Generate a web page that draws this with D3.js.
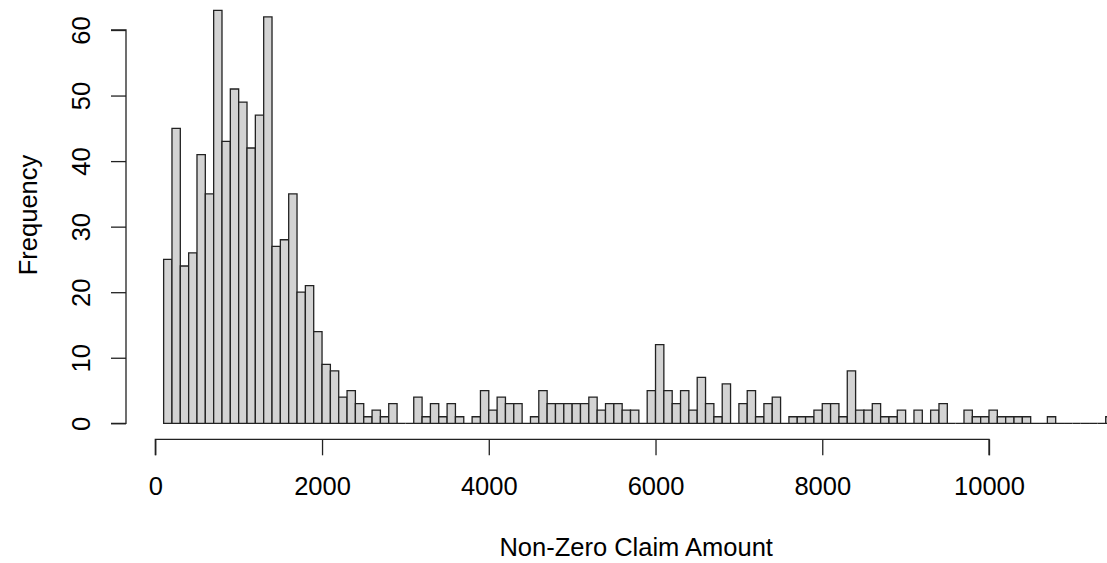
<!DOCTYPE html>
<html>
<head>
<meta charset="utf-8">
<script src="https://cdn.jsdelivr.net/npm/d3@7"></script>
<style>
  html, body { margin: 0; padding: 0; background: #fff; }
  svg { display: block; }
  text { font-family: "Liberation Sans", Arial, sans-serif; fill: #000; }
</style>
</head>
<body>
<svg id="chart" width="1107" height="563"></svg>
<script>
// Left edges of the 100-wide claim-amount bins
const binStarts = [
  100, 200, 300, 400, 500, 600, 700, 800, 900, 1000,
  1100, 1200, 1300, 1400, 1500, 1600, 1700, 1800, 1900, 2000,
  2100, 2200, 2300, 2400, 2500, 2600, 2700, 2800, 2900, 3000,
  3100, 3200, 3300, 3400, 3500, 3600, 3700, 3800, 3900, 4000,
  4100, 4200, 4300, 4400, 4500, 4600, 4700, 4800, 4900, 5000,
  5100, 5200, 5300, 5400, 5500, 5600, 5700, 5800, 5900, 6000,
  6100, 6200, 6300, 6400, 6500, 6600, 6700, 6800, 6900, 7000,
  7100, 7200, 7300, 7400, 7500, 7600, 7700, 7800, 7900, 8000,
  8100, 8200, 8300, 8400, 8500, 8600, 8700, 8800, 8900, 9000,
  9100, 9200, 9300, 9400, 9500, 9600, 9700, 9800, 9900, 10000,
  10100, 10200, 10300, 10400, 10500, 10600, 10700, 10800, 10900, 11000,
  11100, 11200, 11300, 11400
];
const binWidth = 100;

// Number of non-zero claims falling in each bin
const counts = [
  25, 45, 24, 26, 41, 35, 63, 43, 51, 49,
  42, 47, 62, 27, 28, 35, 20, 21, 14, 9,
  8, 4, 5, 3, 1, 2, 1, 3, 0, 0,
  4, 1, 3, 1, 3, 1, 0, 1, 5, 2,
  4, 3, 3, 0, 1, 5, 3, 3, 3, 3,
  3, 4, 2, 3, 3, 2, 2, 0, 5, 12,
  5, 3, 5, 2, 7, 3, 1, 6, 0, 3,
  5, 1, 3, 4, 0, 1, 1, 1, 2, 3,
  3, 1, 8, 2, 2, 3, 1, 1, 2, 0,
  2, 0, 2, 3, 0, 0, 2, 1, 1, 2,
  1, 1, 1, 1, 0, 0, 1, 0, 0, 0,
  0, 0, 0, 1
];

const xTicks = [0, 2000, 4000, 6000, 8000, 10000];
const yTicks = [0, 10, 20, 30, 40, 50, 60];

const svg = d3.select("#chart");
const ink = "#222";
const fontSize = 25.5;

const x = d3.scaleLinear().domain([0, 10000]).range([155.3, 989]);
const y = d3.scaleLinear().domain([0, 60]).range([423.3, 30]);

// Histogram bars as closed outlines, so empty bins still show their bottom edge
svg.append("g")
  .selectAll("path")
  .data(binStarts.map((s, i) => ({ start: s, count: counts[i] })))
  .join("path")
  .attr("d", d => {
    const x0 = x(d.start), x1 = x(d.start + binWidth);
    const y0 = y(0), y1 = y(d.count);
    return `M${x0},${y0}V${y1}H${x1}V${y0}Z`;
  })
  .attr("fill", "#d3d3d3")
  .attr("stroke", ink)
  .attr("stroke-width", 1.3);

// X axis, offset below the plot in base-graphics style
const xAxis = svg.append("g")
  .attr("transform", "translate(0,439.3)")
  .call(d3.axisBottom(x).tickValues(xTicks).tickSize(16).tickPadding(22)
    .tickFormat(d3.format("d")));
xAxis.select(".domain").attr("stroke", ink).attr("stroke-width", 1.3)
  .attr("d", `M${x(0)},16V0H${x(10000)}V16`);
xAxis.selectAll(".tick line").attr("stroke", ink).attr("stroke-width", 1.3);
xAxis.selectAll(".tick text")
  .style("font-family", "'Liberation Sans', Arial, sans-serif")
  .style("font-size", fontSize + "px").attr("fill", "#000");

// Y axis with labels rotated parallel to the axis
const yAxis = svg.append("g")
  .attr("transform", "translate(126,0)")
  .call(d3.axisLeft(y).tickValues(yTicks).tickSize(15).tickFormat(d3.format("d")));
yAxis.select(".domain").attr("stroke", ink).attr("stroke-width", 1.3)
  .attr("d", `M-15,${y(0)}H0V${y(60)}H-15`);
yAxis.selectAll(".tick line").attr("stroke", ink).attr("stroke-width", 1.3);
yAxis.selectAll(".tick text")
  .attr("x", null).attr("dy", null)
  .attr("text-anchor", "middle")
  .attr("transform", "translate(-36,0) rotate(-90)")
  .style("font-family", "'Liberation Sans', Arial, sans-serif")
  .style("font-size", fontSize + "px").attr("fill", "#000");

// Axis titles
svg.append("text")
  .attr("x", (x(0) + 1107) / 2 + 5)
  .attr("y", 556)
  .attr("text-anchor", "middle")
  .style("font-size", fontSize + "px")
  .text("Non-Zero Claim Amount");

svg.append("text")
  .attr("transform", "translate(36.5,215) rotate(-90)")
  .attr("text-anchor", "middle")
  .style("font-size", fontSize + "px")
  .text("Frequency");
</script>
</body>
</html>
